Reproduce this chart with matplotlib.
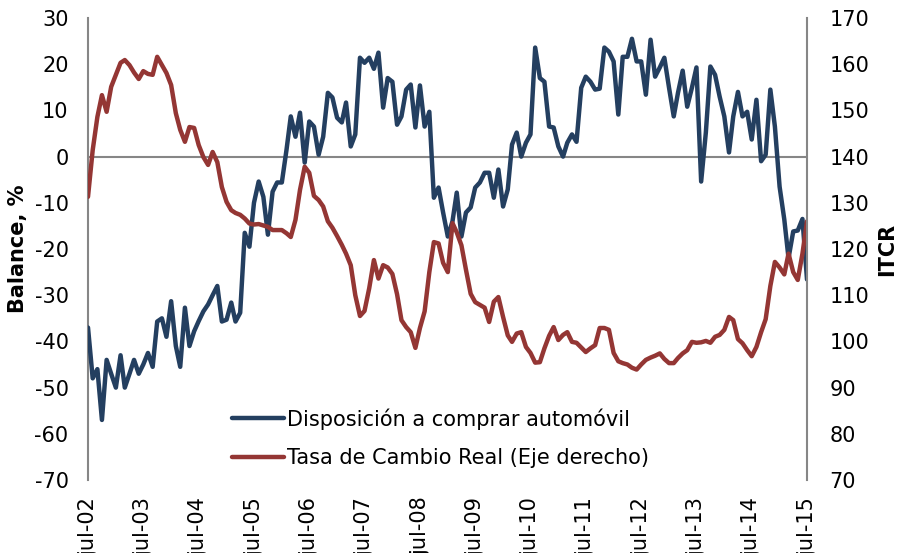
import pandas as pd
import matplotlib
matplotlib.use('Agg')
import matplotlib.pyplot as plt

# Datos mensuales jul-02 .. jul-15
fechas = pd.date_range('2002-07-01', periods=157, freq='MS')

disposicion = [
    -37, -48, -46, -57, -44, -47, -50, -43, -50, -47, -44, -47,
    -45, -42.5, -45.5, -35.7, -35, -39, -31.3, -41, -45.5, -32.7, -41, -37.8,
    -35.6, -33.5, -32, -30, -28, -35.7, -35.3, -31.6, -35.7, -33.8, -16.5, -19.5,
    -10, -5.4, -8.7, -16.9, -7.6, -5.6, -5.6, 1.5, 8.7, 4.3, 9.5, -1.3,
    7.6, 6.5, 0.4, 4.3, 13.8, 12.8, 8.4, 7.4, 11.7, 2.2, 4.8, 21.4,
    20.3, 21.4, 19, 22.5, 10.6, 17, 16.2, 6.9, 8.7, 14.5, 15.6, 6.3,
    15.4, 6.5, 9.7, -8.9, -6.7, -12.1, -17.3, -14, -7.8, -17.3, -12.1, -11,
    -6.7, -5.6, -3.5, -3.5, -8.9, -2.8, -10.8, -7.1, 2.6, 5.2, 0, 3,
    4.8, 23.6, 17, 16.2, 6.5, 6.3, 2.2, 0, 3, 4.8, 3.2, 14.9,
    17.3, 16.2, 14.5, 14.7, 23.6, 22.7, 20.6, 9.1, 21.6, 21.6, 25.5, 20.6,
    20.6, 13.4, 25.3, 17.3, 19.3, 21.4, 14.9, 8.7, 13.8, 18.6, 10.8, 14.9,
    19.3, -5.4, 5.2, 19.5, 17.7, 13, 8.7, 0.9, 8.7, 14, 8.7, 9.7,
    3.7, 12.3, -1, 0.4, 14.5, 6.5, -6.5, -13.6, -22, -16.2, -16, -13.5,
    -26.6,
]

tasa_cambio = [
    131.3, 141.4, 148.6, 153.3, 149.7, 155.1, 157.7, 160.3, 160.9, 159.8, 158.2, 156.8,
    158.5, 157.9, 157.7, 161.6, 159.8, 158.1, 155.5, 149.4, 145.8, 143.2, 146.4, 146.2,
    142.5, 139.9, 138.2, 141, 138.8, 133.4, 130.2, 128.4, 127.8, 127.4, 126.6, 125.5,
    125.3, 125.4, 125.1, 124.8, 124.1, 124.1, 124.1, 123.4, 122.6, 126.3, 132.8, 137.8,
    136.5, 131.5, 130.6, 129.2, 126, 124.6, 122.8, 120.9, 119, 116.5, 110, 105.5,
    106.6, 111.5, 117.6, 113.6, 116.5, 116, 114.6, 110.2, 104.6, 103.1, 102, 98.6,
    102.9, 106.5, 115, 121.5, 121.2, 117, 115, 125.6, 123.6, 120.8, 115.5, 110.3,
    108.5, 107.9, 107.3, 104.2, 108.6, 109.6, 105.3, 101.3, 99.9, 101.7, 102, 98.8,
    97.5, 95.4, 95.5, 98.5, 101.2, 103.1, 100.3, 101.4, 102, 99.9, 99.7, 98.7,
    97.7, 98.5, 99.2, 102.9, 102.9, 102.5, 97.5, 95.7, 95.3, 95, 94.3, 93.9,
    95, 96, 96.5, 96.9, 97.4, 96.2, 95.3, 95.3, 96.4, 97.4, 98.1, 99.9,
    99.7, 99.8, 100.1, 99.7, 101, 101.4, 102.5, 105.3, 104.6, 100.5, 99.6, 98.1,
    96.8, 98.8, 102, 104.8, 112, 117.2, 116, 114.5, 119, 115, 113.3, 119,
    126,
]

etiquetas = ['jul-02', 'jul-03', 'jul-04', 'jul-05', 'jul-06', 'jul-07', 'jul-08',
             'jul-09', 'jul-10', 'jul-11', 'jul-12', 'jul-13', 'jul-14', 'jul-15']

azul = '#243f60'
rojo = '#943634'
gris = '#868686'

plt.rcParams['font.family'] = 'DejaVu Sans'
plt.rcParams['axes.unicode_minus'] = False

fig = plt.figure(figsize=(8.98, 5.53), dpi=100)
ax = fig.add_axes([88 / 898, 73 / 553, 719 / 898, 462 / 553])
ax2 = ax.twinx()

ax.axhline(0, color=gris, lw=1.5, zorder=1)
l1, = ax.plot(fechas, disposicion, color=azul, lw=3.2, solid_capstyle='round',
              label='Disposición a comprar automóvil', zorder=3)
l2, = ax2.plot(fechas, tasa_cambio, color=rojo, lw=3.2, solid_capstyle='round',
               label='Tasa de Cambio Real (Eje derecho)')

ax.set_xlim(fechas[0], fechas[-1])
ax.set_ylim(-70, 30)
ax2.set_ylim(70, 170)
ax.set_yticks(range(-70, 31, 10))
ax2.set_yticks(range(70, 171, 10))

ticks_x = [f for f in fechas if f.month == 7]
ax.set_xticks(ticks_x)
ax.set_xticklabels(etiquetas, rotation=90, va='top', ha='center')

for a in (ax, ax2):
    for s in a.spines.values():
        s.set_visible(False)
    a.tick_params(length=0, labelsize=15)
ax.spines['left'].set_visible(True)
ax.spines['left'].set_color(gris)
ax.spines['left'].set_linewidth(1.5)
ax2.spines['right'].set_visible(True)
ax2.spines['right'].set_color(gris)
ax2.spines['right'].set_linewidth(1.5)
ax.tick_params(axis='y', pad=14)
ax2.tick_params(axis='y', pad=16)
ax.tick_params(axis='x', pad=12)

ax.set_ylabel('Balance, %', fontsize=15, fontweight='bold')
ax.yaxis.set_label_coords(-0.083, 0.5)
ax2.set_ylabel('ITCR', fontsize=15, fontweight='bold')
ax2.yaxis.set_label_coords(1.098, 0.5)

fig.legend(handles=[l1, l2], loc='upper left', bbox_to_anchor=(232 / 898, 145 / 553),
           frameon=False, fontsize=15, handlelength=2.5, handletextpad=0.15,
           labelspacing=0.9, borderpad=0, borderaxespad=0)

fig.savefig('out.png', dpi=100)
